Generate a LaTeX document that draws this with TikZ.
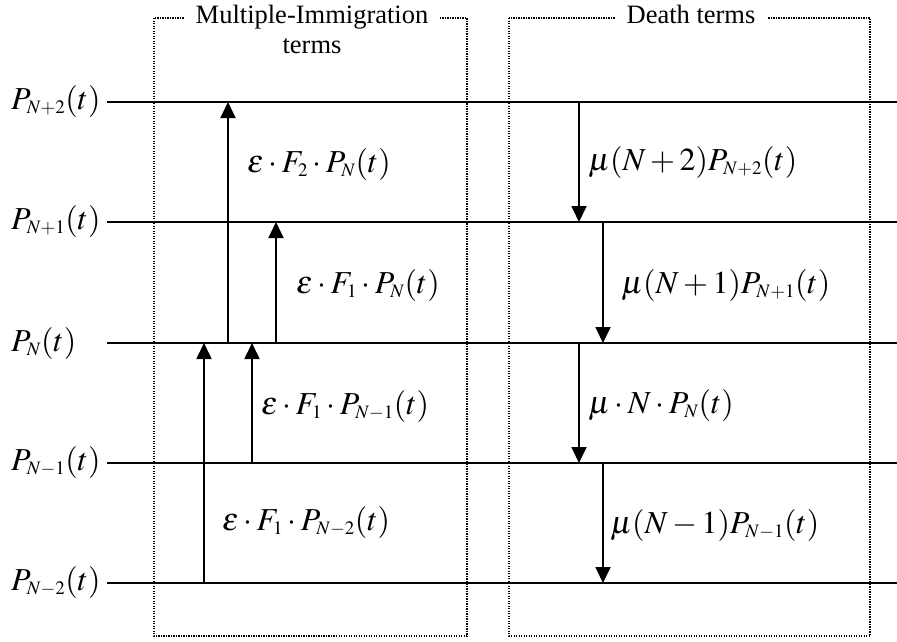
\documentclass[tikz,border=0pt]{standalone}
\usepackage{mathptmx}
\usepackage{fontspec}
\setmainfont{Liberation Serif}
\DeclareMathSizes{32}{32}{19}{14}
\usetikzlibrary{arrows.meta}
\begin{document}
\begin{tikzpicture}[x=1pt,y=-1pt,
  level/.style={line width=2.2pt},
  uparrow/.style={line width=1.8pt,-{Triangle[width=15pt,length=16pt]}},
  frame/.style={line width=1.1pt,dash pattern=on 1.1pt off 1.4pt},
  lbl/.style={inner sep=0pt,anchor=west,font=\fontsize{32}{36}\selectfont},
  head/.style={inner sep=0pt,anchor=base,font=\fontsize{26.5}{30}\selectfont},
]
\useasboundingbox (0,0) rectangle (897,641);
% frames
\draw[frame] (154,18) rectangle (467,636);
\draw[frame] (509,18) rectangle (870,636);
\node[head,fill=white,inner xsep=12pt,inner ysep=6pt] (h1) at (312,23) {Multiple-Immigration};
\node[head] (h1b) at (312,53) {terms};
\node[head,fill=white,inner xsep=12pt,inner ysep=6pt] (h2) at (691,23) {Death terms};
% levels
\foreach \n/\y in {a/102,b/222,c/343,d/463,e/583}{
  \coordinate (\n L) at (107,\y);
  \coordinate (\n R) at (897,\y);
  \draw[level] (\n L) -- (\n R);
}
% left labels
\node[lbl] (pa) at (11,101) {$P_{N+2}(t)$};
\node[lbl] (pb) at (11,221) {$P_{N+1}(t)$};
\node[lbl] (pc) at (11,343) {$P_{N}(t)$};
\node[lbl] (pd) at (11,462) {$P_{N-1}(t)$};
\node[lbl] (pe) at (11,582) {$P_{N-2}(t)$};
% immigration arrows
\coordinate (u1s) at (228,343); \coordinate (u1e) at (228,102);
\coordinate (u2s) at (276,343); \coordinate (u2e) at (276,222);
\coordinate (u3s) at (204,583); \coordinate (u3e) at (204,343);
\coordinate (u4s) at (252,463); \coordinate (u4e) at (252,343);
\draw[uparrow] (u1s) -- (u1e);
\draw[uparrow] (u2s) -- (u2e);
\draw[uparrow] (u3s) -- (u3e);
\draw[uparrow] (u4s) -- (u4e);
% death arrows
\coordinate (d1s) at (579,102); \coordinate (d1e) at (579,222);
\coordinate (d2s) at (603,222); \coordinate (d2e) at (603,343);
\coordinate (d3s) at (579,343); \coordinate (d3e) at (579,463);
\coordinate (d4s) at (603,463); \coordinate (d4e) at (603,583);
\draw[uparrow] (d1s) -- (d1e);
\draw[uparrow] (d2s) -- (d2e);
\draw[uparrow] (d3s) -- (d3e);
\draw[uparrow] (d4s) -- (d4e);
% rate labels
\node[lbl] (l1) at (247,164) {$\varepsilon\cdot F_2\cdot P_N(t)$};
\node[lbl] (l2) at (296,285) {$\varepsilon\cdot F_1\cdot P_N(t)$};
\node[lbl] (l3) at (261,406) {$\varepsilon\cdot F_1\cdot P_{N-1}(t)$};
\node[lbl] (l4) at (222,522) {$\varepsilon\cdot F_1\cdot P_{N-2}(t)$};
\node[lbl] (m1) at (588,162) {$\mu(N+2)P_{N+2}(t)$};
\node[lbl] (m2) at (621,285) {$\mu(N+1)P_{N+1}(t)$};
\node[lbl] (m3) at (588,405) {$\mu\cdot N\cdot P_N(t)$};
\node[lbl] (m4) at (610,525) {$\mu(N-1)P_{N-1}(t)$};
\end{tikzpicture}
\end{document}
